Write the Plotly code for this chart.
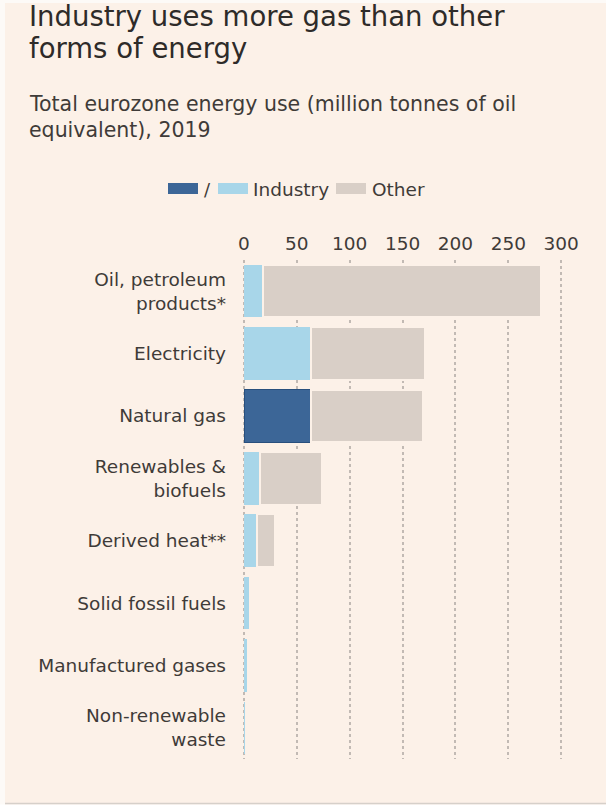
import plotly.graph_objects as go

categories = ["Oil, petroleum<br>products*", "Electricity", "Natural gas",
              "Renewables &<br>biofuels", "Derived heat**", "Solid fossil fuels",
              "Manufactured gases", "Non-renewable<br>waste"]
industry = [18, 63, 63, 15, 12, 6, 4, 1.5]
other = [263, 108, 106, 59, 17, 0.6, 0.4, 0.3]
tick_vals = [0, 50, 100, 150, 200, 250, 300]
tick_text = ["0", "50", "100", "150", "200", "250", "300"]

W, H = 606, 808
X0, SCALE, XMAX = 244, 1.0566, 315
ML = 241
PW = int(round(XMAX * SCALE + (X0 - ML)))
MR = W - ML - PW
MT, MB = 260, 49
PH = H - MT - MB
XMIN = -(X0 - ML) / SCALE
BG = "#fcf1e8"
TXT = "#3a3633"
FONT = "DejaVu Sans"

LIGHT = "#a8d6e9"
DARK = "#3c6697"
GREY = "#d9cfc7"

def xp(px):
    return (px - ML) / PW

def yp(py):
    return (H - MB - py) / PH

ind_colors = [DARK if c == "Natural gas" else LIGHT for c in categories]
ind_lines = ["#284f7d" if c == "Natural gas" else LIGHT for c in categories]
ind_widths = [1 if c == "Natural gas" else 0 for c in categories]

fig = go.Figure()
fig.add_trace(go.Bar(y=categories, x=industry, orientation="h", name="Industry",
                     marker=dict(color=ind_colors, line=dict(color=ind_lines, width=ind_widths)),
                     showlegend=False))
fig.add_trace(go.Bar(y=categories, x=other, orientation="h", name="Other",
                     marker=dict(color=GREY, line=dict(color=BG, width=2)),
                     showlegend=False))

shapes = [
    dict(type="rect", xref="paper", yref="paper", x0=xp(0), x1=xp(5), y0=yp(0), y1=yp(H),
         fillcolor="#fdfaf7", line_width=0, layer="above"),
    dict(type="rect", xref="paper", yref="paper", x0=xp(0), x1=xp(W), y0=yp(0), y1=yp(3),
         fillcolor="#fdfaf7", line_width=0, layer="above"),
    dict(type="rect", xref="paper", yref="paper", x0=xp(0), x1=xp(W), y0=yp(804.5), y1=yp(H),
         fillcolor="#ffffff", line_width=0, layer="above"),
    dict(type="line", xref="paper", yref="paper", x0=xp(5), x1=xp(W), y0=yp(803.5), y1=yp(803.5),
         line=dict(color="#d6d0ca", width=1.5), layer="above"),
    # legend swatches
    dict(type="rect", xref="paper", yref="paper", x0=xp(168), x1=xp(198), y0=yp(183), y1=yp(194),
         fillcolor=DARK, line_width=0),
    dict(type="rect", xref="paper", yref="paper", x0=xp(218), x1=xp(248), y0=yp(183), y1=yp(194),
         fillcolor=LIGHT, line_width=0),
    dict(type="rect", xref="paper", yref="paper", x0=xp(336), x1=xp(366), y0=yp(183), y1=yp(194),
         fillcolor=GREY, line_width=0),
]

def ann(text, x, y, size, color=TXT, xanchor="left"):
    return dict(text=text, x=xp(x), y=yp(y), xref="paper", yref="paper", showarrow=False,
                xanchor=xanchor, yanchor="middle", font=dict(family=FONT, size=size, color=color))

annotations = [
    ann("Industry uses more gas than other", 27, 16, 27.5, "#2e2b29"),
    ann("forms of energy", 27, 48, 27.5, "#2e2b29"),
    ann("Total eurozone energy use (million tonnes of oil", 27, 104, 20.5, "#3f3b38"),
    ann("equivalent), 2019", 27, 130, 20.5, "#3f3b38"),
    ann("/", 207, 189, 18, "#3f3b38", "center"),
    ann("Industry", 251, 189, 18.5, "#3f3b38"),
    ann("Other", 370, 189, 18.5, "#3f3b38"),
]

fig.update_layout(
    width=W, height=H,
    margin=dict(l=ML, r=MR, t=MT, b=MB, pad=0),
    paper_bgcolor=BG, plot_bgcolor=BG,
    barmode="stack", bargap=0.16,
    shapes=shapes, annotations=annotations,
    font=dict(family=FONT, color="#3f3b38"),
    xaxis=dict(range=[XMIN, XMAX], side="top", tickvals=tick_vals, ticktext=tick_text,
               showgrid=True, gridcolor="#c2bab4", griddash="dot", gridwidth=1.5,
               zeroline=False, showline=False, ticks="", ticklabelstandoff=5,
               tickfont=dict(family=FONT, size=18.5, color="#3f3b38"), fixedrange=True),
    yaxis=dict(autorange="reversed", showgrid=False, zeroline=False, showline=False,
               ticks="", ticklabelstandoff=14,
               tickfont=dict(family=FONT, size=18.5, color="#3f3b38"), fixedrange=True),
)

fig.write_html("out.html", config={"displayModeBar": False},
               post_script="document.body.style.margin='0';document.body.style.overflow='hidden';")
